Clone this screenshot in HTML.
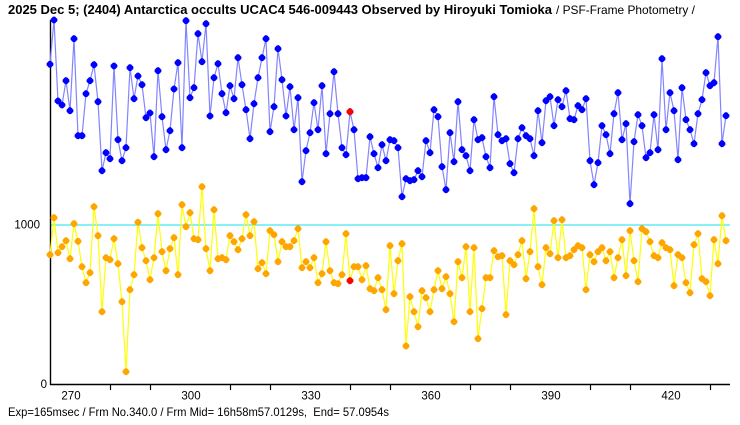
<!DOCTYPE html>
<html>
<head>
<meta charset="utf-8">
<style>
  html,body{margin:0;padding:0;background:#fff;}
  body{width:740px;height:425px;overflow:hidden;}
  svg{display:block;}
  text{font-family:"Liberation Sans","IPAGothic",sans-serif;fill:#000;white-space:pre;}
</style>
</head>
<body>
<svg width="740" height="425" viewBox="0 0 740 425" xmlns="http://www.w3.org/2000/svg">
  <defs>
    <marker id="mb" viewBox="-4 -4 8 8" markerWidth="8" markerHeight="8" refX="0" refY="0" markerUnits="userSpaceOnUse">
      <polygon points="-1,-3.4 1,-3.4 3.4,-1 3.4,1 1,3.4 -1,3.4 -3.4,1 -3.4,-1" fill="#0000ff"/>
    </marker>
    <marker id="mo" viewBox="-4 -4 8 8" markerWidth="8" markerHeight="8" refX="0" refY="0" markerUnits="userSpaceOnUse">
      <polygon points="-1,-3.4 1,-3.4 3.4,-1 3.4,1 1,3.4 -1,3.4 -3.4,1 -3.4,-1" fill="#ffa500"/>
    </marker>
  </defs>
  <rect width="740" height="425" fill="#fff"/>

  <!-- title -->
  <text x="8" y="14" font-size="12.5" font-weight="bold" textLength="544" lengthAdjust="spacingAndGlyphs">2025 Dec 5; (2404) Antarctica occults UCAC4 546-009443 Observed by Hiroyuki Tomioka</text>
  <text x="556" y="14" font-size="12" textLength="139" lengthAdjust="spacingAndGlyphs">/ PSF-Frame Photometry /</text>

  <!-- reference line at 1000 -->
  <line x1="51" y1="225" x2="730" y2="225" stroke="#40e8f0" stroke-width="1.2"/>

  <!-- axes -->
  <line x1="50.5" y1="20" x2="50.5" y2="385" stroke="#000" stroke-width="1.4"/>
  <line x1="50" y1="384.5" x2="730" y2="384.5" stroke="#000" stroke-width="1.4"/>
  <g stroke="#000" stroke-width="1.2">
    <line x1="110.5" y1="384" x2="110.5" y2="390"/>
    <line x1="150.5" y1="384" x2="150.5" y2="390"/>
    <line x1="230.5" y1="384" x2="230.5" y2="390"/>
    <line x1="270.5" y1="384" x2="270.5" y2="390"/>
    <line x1="350.5" y1="384" x2="350.5" y2="390"/>
    <line x1="390.5" y1="384" x2="390.5" y2="390"/>
    <line x1="470.5" y1="384" x2="470.5" y2="390"/>
    <line x1="510.5" y1="384" x2="510.5" y2="390"/>
    <line x1="590.5" y1="384" x2="590.5" y2="390"/>
    <line x1="630.5" y1="384" x2="630.5" y2="390"/>
    <line x1="710.5" y1="384" x2="710.5" y2="390"/>
  </g>
  <g font-size="11.5" text-anchor="middle">
    <text x="71" y="399.5">270</text>
    <text x="191" y="399.5">300</text>
    <text x="311" y="399.5">330</text>
    <text x="431" y="399.5">360</text>
    <text x="551" y="399.5">390</text>
    <text x="671" y="399.5">420</text>
  </g>
  <text x="40" y="228.5" font-size="11.5" text-anchor="end">1000</text>
  <text x="47" y="388" font-size="11.5" text-anchor="end">0</text>

  <!-- blue series -->
  <polyline fill="none" stroke="#8484ff" stroke-width="1.2" marker-start="url(#mb)" marker-mid="url(#mb)" marker-end="url(#mb)" points="50,64.3 54,20 58,101 62,105 66,80.7 70,110.7 74,38.7 78,135.7 82,135.7 86,93.7 90,80.7 94,64.7 98,101.7 102,170.7 106,152.7 110,158.7 114,66 118,139.7 122,160.7 126,147.7 130,67.7 134,98.7 138,76 142,84.7 146,117.7 150,113 154,156.7 158,70.7 162,116.7 166,149.7 170,130.7 174,89 178,62.7 182,147.7 186,20.7 190,97.7 194,87.7 198,33.7 202,61.7 206,23.7 210,116 214,77.7 218,63.7 222,93.7 226,112.7 230,85.7 234,98.7 238,57.7 242,84.7 246,109.7 250,138.7 254,103.7 258,77.7 262,57.7 266,38.7 270,131.7 274,106.7 278,48.7 282,79.7 286,116 290,86.7 294,129.7 298,97.7 302,181.7 306,150.7 310,132.7 314,102.7 318,129.7 322,85.7 326,153.7 330,113.7 334,71.7 338,113.7 342,147.7 346,154.7 350,111.7 354,129.7 358,178.7 362,177.7 366,177.7 370,136.7 374,153.7 378,167.7 382,144.7 386,160.7 390,139.7 394,140.7 398,147.7 402,196.7 406,178.7 410,180.7 414,179.7 418,170.7 422,176.7 426,140.7 430,152.7 434,109.7 438,116.7 442,166.7 446,189.7 450,132.7 454,161.7 458,101.7 462,149.7 466,155.7 470,170.7 474,119.7 478,139.7 482,137.7 486,156.7 490,167.7 494,96.7 498,134.7 502,140.7 506,138.7 510,163.7 514,172.7 518,138.7 522,127.7 526,135.7 530,138.7 534,155.7 538,110.7 542,142.7 546,100.7 550,96.7 554,125.7 558,99.7 562,106.7 566,90.7 570,118.7 574,119.7 578,105.7 582,109.7 586,98.7 590,160.7 594,184.7 598,162.7 602,125.7 606,134.7 610,153.7 614,113.7 618,92.7 622,139.7 626,123.7 630,203.7 634,141.7 638,114.7 642,125.7 646,157.7 650,152.7 654,114.7 658,149.7 662,58.7 666,129.7 670,92.7 674,110.7 678,159.7 682,87.7 686,119.7 690,129.7 694,143.7 698,113.7 702,99.7 706,72.7 710,85.7 714,82.7 718,36.7 722,143.7 726,115.7"/>

  <!-- orange series -->
  <polyline fill="none" stroke="#ffff00" stroke-width="1.2" marker-start="url(#mo)" marker-mid="url(#mo)" marker-end="url(#mo)" points="50,254.7 54,217.7 58,252.7 62,246.7 66,240.7 70,258.7 74,223.7 78,241.3 82,266.7 86,282.7 90,272.7 94,206.7 98,235.7 102,311.7 106,257.7 110,259.7 114,238.7 118,263.7 122,301.7 126,371.7 130,289.7 134,274.7 138,222.3 142,247.7 146,260.7 150,279.7 154,257.7 158,213.7 162,251.7 166,270.7 170,248.7 174,237.7 178,274.7 182,204.7 186,226.7 190,212.7 194,238.7 198,239.7 202,186.7 206,248.7 210,270.7 214,209.7 218,258.7 222,257.7 226,259.7 230,235.7 234,241.7 238,249.7 242,238.7 246,214.7 250,235.7 254,221.7 258,268.7 262,262.7 266,273.7 270,230.7 274,234.7 278,261.7 282,241.7 286,246.7 290,246.7 294,240.7 298,228.7 302,267.7 306,261.7 310,267.7 314,257.7 318,282.7 322,273.7 326,241.7 330,270.7 334,282.7 338,283.7 342,274.7 346,233.7 350,280.7 354,266.7 358,266.7 362,279.7 366,265.7 370,288.7 374,290.7 378,277.7 382,289.7 386,309.7 390,245.7 394,293.7 398,260.7 402,243.7 406,346 410,296.7 414,311.7 418,326.7 422,290.7 426,297.7 430,311.7 434,289.7 438,270.7 442,288.7 446,276.7 450,293.7 454,321.7 458,261.7 462,277.7 466,246.7 470,311.7 474,247.7 478,338.7 482,308.7 486,277.7 490,277.7 494,250.7 498,256.7 502,255.7 506,314.7 510,260.7 514,264.7 518,254.7 522,240.7 526,278.7 530,251.7 534,208.7 538,266.7 542,284.7 546,247.7 550,253.7 554,220.7 558,257.7 562,219.7 566,257.7 570,255.7 574,249.7 578,245.7 582,247.7 586,289.7 590,254.7 594,261.7 598,251.7 602,247.7 606,260.7 610,251.7 614,277.7 618,257.7 622,239.7 626,275.7 630,230.7 634,260.7 638,281.7 642,228.7 646,231.7 650,241.7 654,255.7 658,257.7 662,242.7 666,247.7 670,249.7 674,285.7 678,254.7 682,257.7 686,282.7 690,292.7 694,244.7 698,233.7 702,278.7 706,281.7 710,295.7 714,239.7 718,263.7 722,215.7 726,240.7"/>

  <!-- current frame markers (red) -->
  <polygon transform="translate(350,111.7)" points="-1,-3.4 1,-3.4 3.4,-1 3.4,1 1,3.4 -1,3.4 -3.4,1 -3.4,-1" fill="#ff0000"/>
  <polygon transform="translate(350,280.7)" points="-1,-3.4 1,-3.4 3.4,-1 3.4,1 1,3.4 -1,3.4 -3.4,1 -3.4,-1" fill="#ff0000"/>

  <!-- footer -->
  <text x="8" y="416" font-size="12" textLength="381" lengthAdjust="spacingAndGlyphs">Exp=165msec / Frm No.340.0 / Frm Mid= 16h58m57.0129s,  End= 57.0954s</text>
</svg>
</body>
</html>
